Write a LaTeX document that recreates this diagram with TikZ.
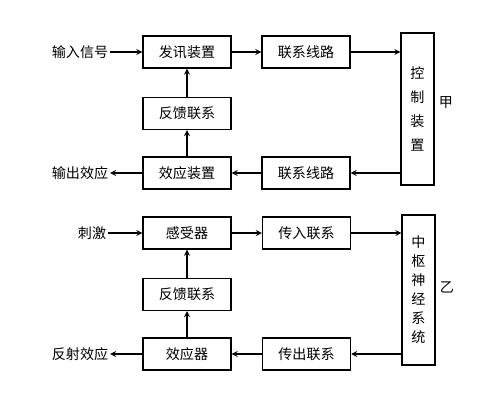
\documentclass[tikz,border=0pt]{standalone}
\usepackage{fontspec}
\newfontfamily\cjk{Noto Sans CJK SC}
\begin{document}
\begin{tikzpicture}[x=0.025cm,y=-0.025cm,>=stealth,line width=0.9pt,
  box/.style={draw,minimum width=2.2cm,minimum height=0.8cm,inner sep=0pt,font=\cjk},
  tallbox/.style={draw,minimum width=0.82cm,inner sep=0pt,align=center,font=\cjk},
  lbl/.style={inner sep=1pt,font=\cjk}]
  \useasboundingbox (0,0) rectangle (484,405);
  % 甲
  \node[lbl] (in) at (80,52) {输入信号};
  \node[box] (fx) at (187,52) {发讯装置};
  \node[box] (lxa) at (306,52) {联系线路};
  \node[box] (fka) at (187,113.5) {反馈联系};
  \node[box] (xy) at (187,173) {效应装置};
  \node[box] (lxb) at (306,173) {联系线路};
  \node[lbl] (out) at (80,173) {输出效应};
  \node[tallbox,minimum height=3.8cm] (kz) at (417.5,109) {控\\[5pt]制\\[5pt]装\\[5pt]置};
  \node[lbl] (jia) at (446,103) {甲};
  \foreach \a/\b in {in/fx, fx/lxa, lxb/xy, xy/out, xy/fka, fka/fx}{
    \draw[->] (\a) -- (\b);
  }
  \draw[->] (lxa.east) -- (lxa.east -| kz.west);
  \draw[->] (kz.west |- lxb.east) -- (lxb.east);
  % 乙
  \node[lbl] (cj) at (92,233) {刺激};
  \node[box] (gs) at (187,233) {感受器};
  \node[box] (cr) at (306.5,233) {传入联系};
  \node[box] (fkb) at (187,294.5) {反馈联系};
  \node[box] (xyq) at (187,354) {效应器};
  \node[box] (cc) at (306.5,354) {传出联系};
  \node[lbl] (fs) at (80,354) {反射效应};
  \node[tallbox,minimum height=3.75cm] (zs) at (418.5,290) {中\\[1.5pt]枢\\[1.5pt]神\\[1.5pt]经\\[1.5pt]系\\[1.5pt]统};
  \node[lbl] (yi) at (447,287) {乙};
  \foreach \a/\b in {cj/gs, gs/cr, cc/xyq, xyq/fs, xyq/fkb, fkb/gs}{
    \draw[->] (\a) -- (\b);
  }
  \draw[->] (cr.east) -- (cr.east -| zs.west);
  \draw[->] (zs.west |- cc.east) -- (cc.east);
\end{tikzpicture}
\end{document}
